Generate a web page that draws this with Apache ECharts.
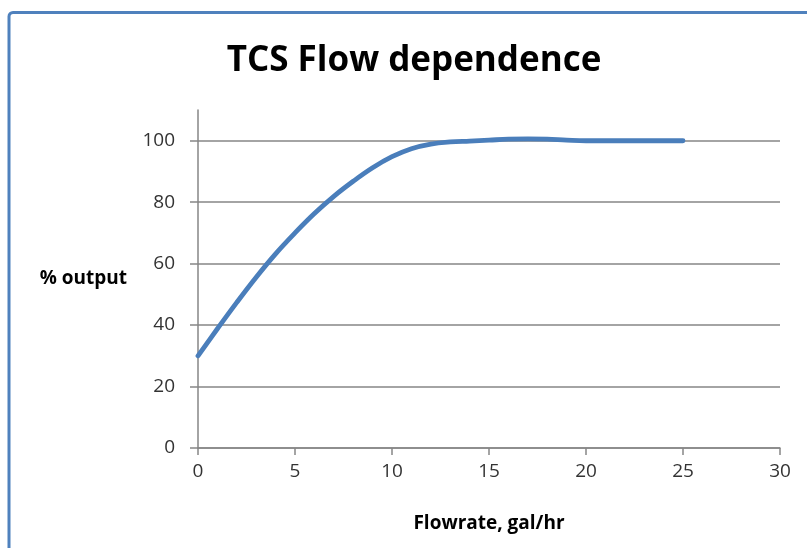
<!DOCTYPE html>
<html>
<head>
<meta charset="utf-8">
<script src="https://cdn.jsdelivr.net/npm/echarts@6/dist/echarts.min.js"></script>
<style>
  html, body { margin: 0; padding: 0; background: #fff; }
  #chart { width: 807px; height: 548px; }
</style>
</head>
<body>
<div id="chart"></div>
<script>
// Data read (estimated) from the reference picture's curve
const flowrate  = [0,  1,    2,    3,    4,    5,  6,    7,    8,    9,    10,   11,   12,   13,   14,   15,    16,    17,    18,    19,    20,  25];
const outputPct = [30, 38.8, 47.4, 55.6, 63.2, 70, 76.3, 81.9, 86.8, 91.2, 94.8, 97.4, 98.9, 99.6, 99.9, 100.2, 100.5, 100.6, 100.5, 100.2, 100, 100];
const yTicks = [0, 20, 40, 60, 80, 100];
const xTicks = [0, 5, 10, 15, 20, 25, 30];

const chart = echarts.init(document.getElementById('chart'), null, { renderer: 'canvas' });
const FONT = '"Open Sans", "Noto Sans", sans-serif';
const AXIS_GRAY = '#868686';

chart.setOption({
  animation: false,
  backgroundColor: '#fff',
  title: {
    text: 'TCS Flow dependence',
    left: 409, top: 39, textAlign: 'center',
    textStyle: { fontFamily: FONT, fontWeight: 'bold', fontSize: 35, color: '#000' }
  },
  graphic: [{
    type: 'rect',
    shape: { x: 9, y: 12.5, width: 1000, height: 800, r: 4 },
    style: { fill: 'none', stroke: '#4F81BD', lineWidth: 3 },
    silent: true
  }],
  grid: { left: 198, right: 27, top: 110, bottom: 100, containLabel: false },
  xAxis: {
    type: 'value', min: 0, max: 30, interval: 5,
    name: 'Flowrate, gal/hr', nameLocation: 'middle', nameGap: 66,
    nameTextStyle: { fontFamily: FONT, fontWeight: 'bold', fontSize: 19, color: '#000' },
    axisLine: { show: true, lineStyle: { color: AXIS_GRAY, width: 1.5 } },
    axisTick: { show: true, length: 7, lineStyle: { color: AXIS_GRAY, width: 1.5 }, customValues: xTicks },
    axisLabel: { fontFamily: FONT, fontSize: 19, color: '#333', margin: 14, customValues: xTicks },
    splitLine: { show: false }
  },
  yAxis: {
    type: 'value', min: 0, max: 110, interval: 20,
    name: '% output', nameLocation: 'middle', nameGap: 71, nameRotate: 0,
    nameTextStyle: { fontFamily: FONT, fontWeight: 'bold', fontSize: 19, color: '#000', align: 'right', verticalAlign: 'middle' },
    axisLine: { show: true, lineStyle: { color: AXIS_GRAY, width: 1.5 } },
    axisTick: { show: true, length: 8, lineStyle: { color: AXIS_GRAY, width: 1.5 }, customValues: yTicks },
    axisLabel: { fontFamily: FONT, fontSize: 19, color: '#333', margin: 23, customValues: yTicks },
    splitLine: { show: true, lineStyle: { color: AXIS_GRAY, width: 1.5 } }
  },
  series: [{
    type: 'line',
    data: flowrate.map((x, i) => [x, outputPct[i]]),
    smooth: 0.4,
    showSymbol: false,
    lineStyle: { color: '#4A7EBB', width: 4.8, cap: 'round', join: 'round' },
    itemStyle: { color: '#4A7EBB' },
    silent: true
  }]
});
</script>
</body>
</html>
